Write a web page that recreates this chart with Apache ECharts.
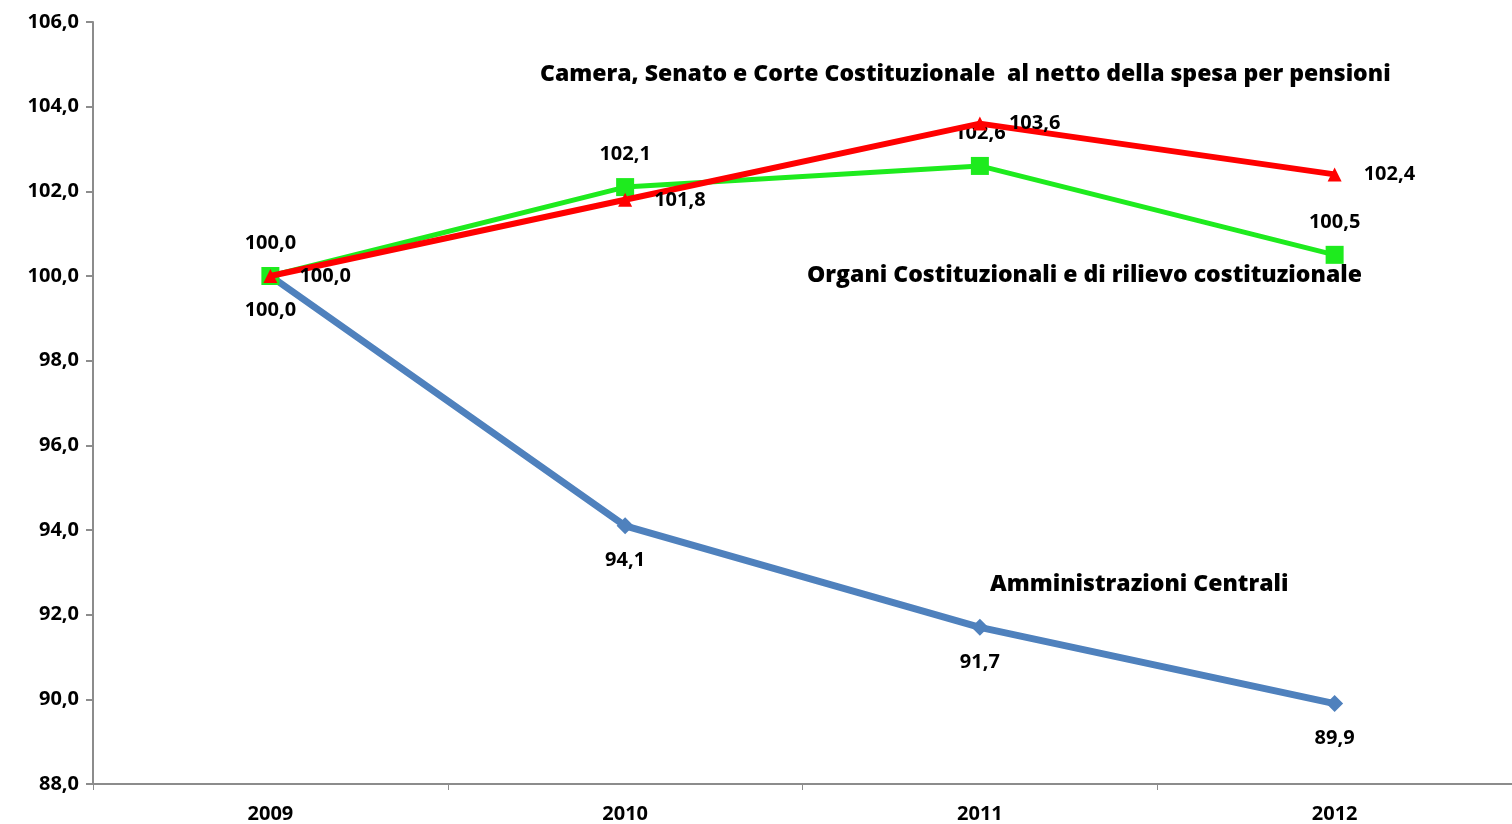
<!DOCTYPE html>
<html>
<head>
<meta charset="utf-8">
<script src="https://cdn.jsdelivr.net/npm/echarts@6/dist/echarts.min.js"></script>
<style>
  html, body { margin: 0; padding: 0; background: #fff; }
  #chart { width: 1512px; height: 824px; }
</style>
</head>
<body>
<div id="chart"></div>
<script>
// years on the x axis
const years = ['2009', '2010', '2011', '2012'];

// index values (2009 = 100)
const amministrazioniCentrali = [100.0, 94.1, 91.7, 89.9];
const organiCostituzionali = [100.0, 102.1, 102.6, 100.5];
const cameraSenatoCorte = [100.0, 101.8, 103.6, 102.4];

// y axis range
const yMin = 88;
const yMax = 106;
const yStep = 2;

const FONT = '"Open Sans", Lato, sans-serif';
const fmt = v => v.toFixed(1).replace('.', ',');

const labelStyle = {
  show: true,
  color: '#000',
  fontFamily: FONT,
  fontWeight: 'bold',
  fontSize: 20,
  formatter: p => fmt(p.value)
};

const chart = echarts.init(document.getElementById('chart'));

chart.setOption({
  animation: false,
  backgroundColor: '#fff',
  grid: { left: 93, right: -2, top: 22, bottom: 40, containLabel: false },
  xAxis: {
    type: 'category',
    data: years,
    boundaryGap: true,
    axisLine: { lineStyle: { color: '#8c8c8c', width: 2 } },
    axisTick: { show: true, alignWithLabel: false, length: 6, lineStyle: { color: '#8c8c8c', width: 1 } },
    axisLabel: { color: '#000', fontFamily: FONT, fontWeight: 'bold', fontSize: 20, margin: 20 },
    splitLine: { show: false }
  },
  yAxis: {
    type: 'value',
    min: yMin,
    max: yMax,
    interval: yStep,
    axisLine: { show: true, lineStyle: { color: '#8c8c8c', width: 2 } },
    axisTick: { show: true, length: 7, lineStyle: { color: '#8c8c8c', width: 2 } },
    axisLabel: { color: '#000', fontFamily: FONT, fontWeight: 'bold', fontSize: 20, margin: 14, formatter: v => fmt(v) },
    splitLine: { show: false }
  },
  series: [
    {
      name: 'Amministrazioni Centrali',
      type: 'line',
      data: amministrazioniCentrali,
      symbol: 'diamond',
      symbolSize: 17,
      lineStyle: { color: '#4F81BD', width: 7 },
      itemStyle: { color: '#4F81BD' },
      label: Object.assign({}, labelStyle, { position: 'bottom', distance: 16 }),
      z: 2
    },
    {
      name: 'Organi Costituzionali e di rilievo costituzionale',
      type: 'line',
      data: organiCostituzionali,
      symbol: 'rect',
      symbolSize: 18,
      lineStyle: { color: '#1EEB1E', width: 5 },
      itemStyle: { color: '#1EEB1E' },
      label: Object.assign({}, labelStyle, { position: 'top', distance: 14 }),
      z: 3
    },
    {
      name: 'Camera, Senato e Corte Costituzionale al netto della spesa per pensioni',
      type: 'line',
      data: cameraSenatoCorte,
      symbol: 'triangle',
      symbolSize: 14,
      lineStyle: { color: '#FF0000', width: 6 },
      itemStyle: { color: '#FF0000' },
      label: Object.assign({}, labelStyle, { position: 'right', distance: 22 }),
      z: 4
    }
  ],
  graphic: [
    {
      type: 'text', left: 540, top: 63,
      style: { text: 'Camera, Senato e Corte Costituzionale  al netto della spesa per pensioni', fill: '#000', font: '800 23px ' + FONT }
    },
    {
      type: 'text', left: 807, top: 264,
      style: { text: 'Organi Costituzionali e di rilievo costituzionale', fill: '#000', font: '800 23px ' + FONT }
    },
    {
      type: 'text', left: 990, top: 573,
      style: { text: 'Amministrazioni Centrali', fill: '#000', font: '800 23px ' + FONT }
    }
  ]
});
</script>
</body>
</html>
